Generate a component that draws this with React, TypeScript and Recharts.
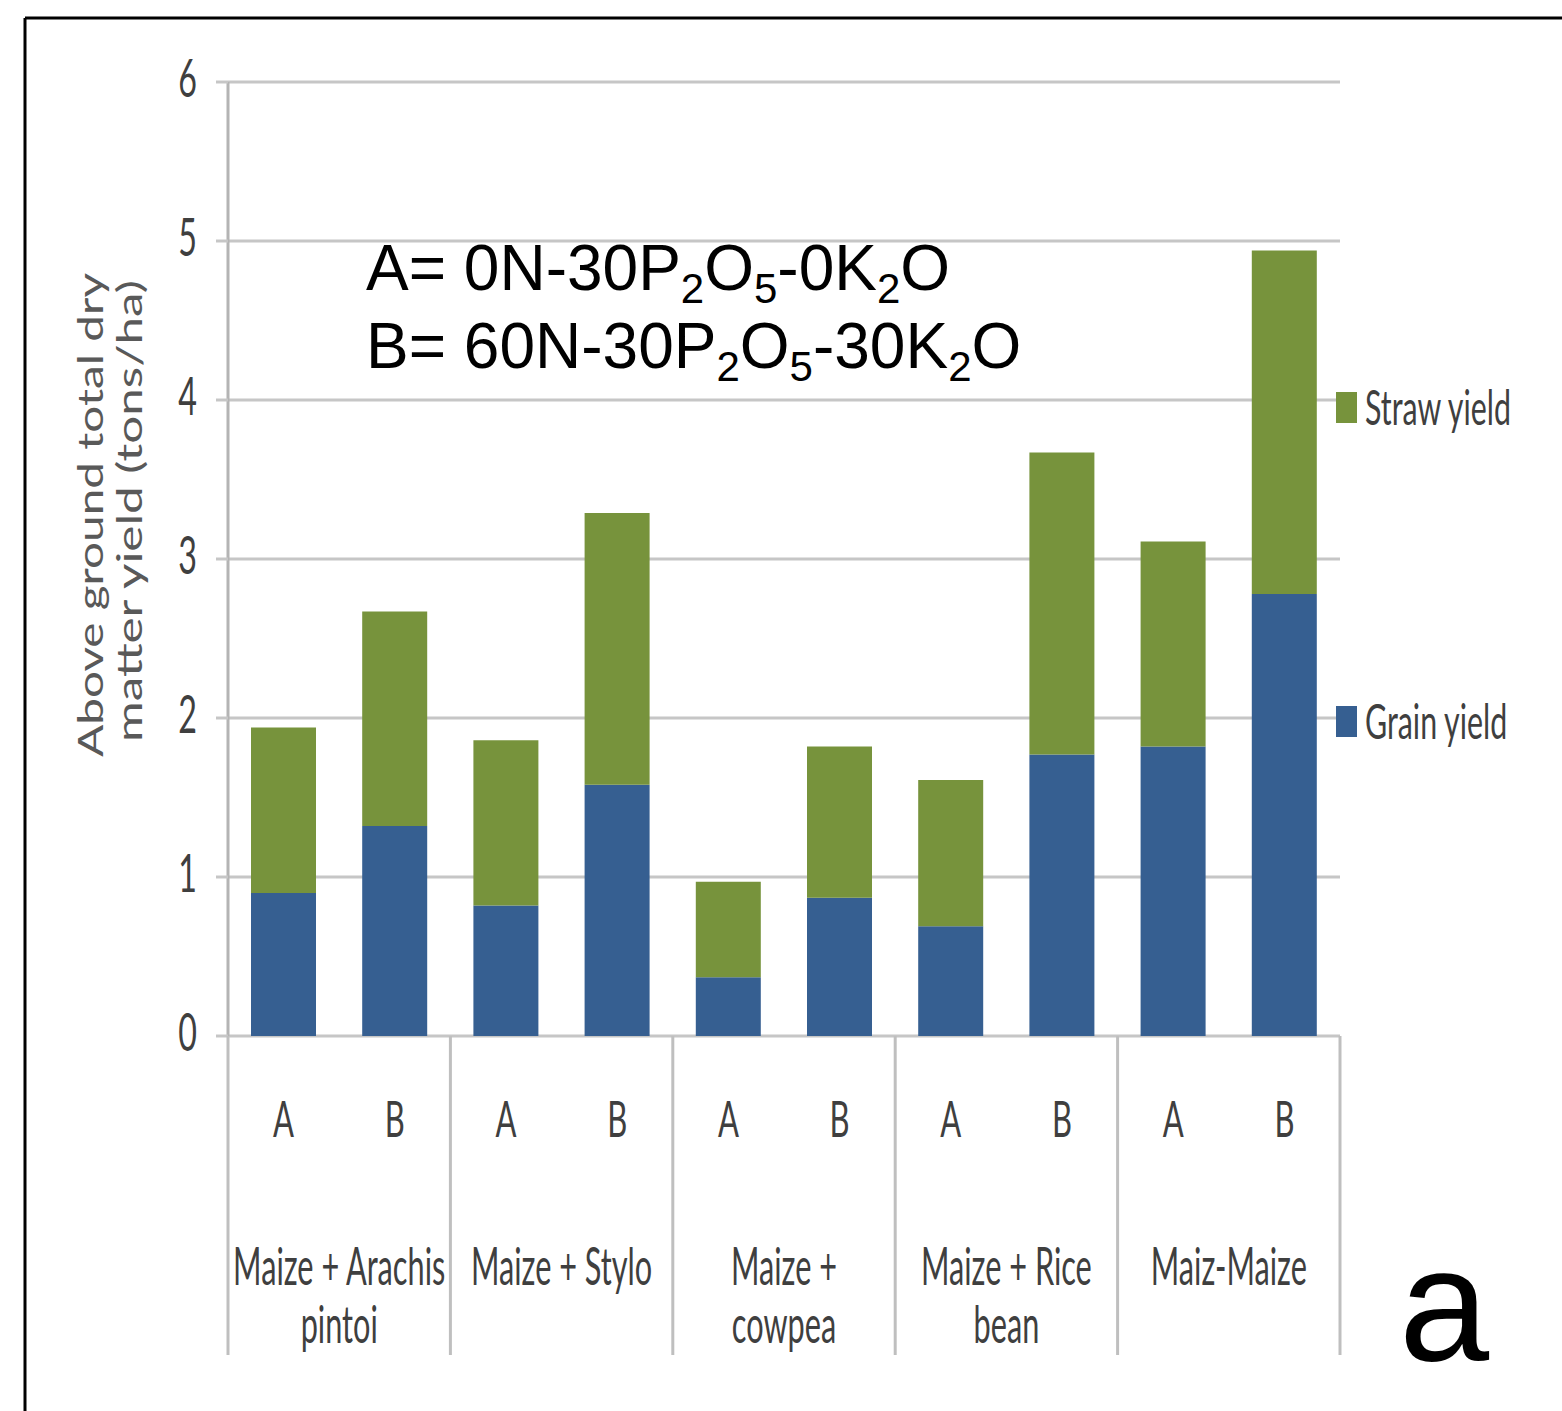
import React from "react";
import { BarChart, Bar, XAxis, YAxis, CartesianGrid, Legend } from "recharts";

// treatments (A / B) per cropping system
const treatments = ["A", "B", "A", "B", "A", "B", "A", "B", "A", "B"];
const systemLabels = [
  ["Maize + Arachis", "pintoi"],
  ["Maize + Stylo"],
  ["Maize +", "cowpea"],
  ["Maize + Rice", "bean"],
  ["Maiz-Maize"],
];
const grainYield = [0.9, 1.32, 0.82, 1.58, 0.37, 0.87, 0.69, 1.77, 1.82, 2.78];
const strawYield = [1.04, 1.35, 1.04, 1.71, 0.6, 0.95, 0.92, 1.9, 1.29, 2.16];
const yTicks = [0, 1, 2, 3, 4, 5, 6];

const data = treatments.map((t, i) => ({
  id: `${t}-${i}`,
  treatment: t,
  grain: grainYield[i],
  straw: strawYield[i],
}));

const W = 1562;
const H = 1411;
const PLOT_LEFT = 228;
const PLOT_RIGHT = 1340;
const PLOT_TOP = 82;
const PLOT_BOTTOM = 1036;
const SLOT = (PLOT_RIGHT - PLOT_LEFT) / treatments.length;

const GREEN = "#77933c";
const BLUE = "#365f91";
const GRID = "#c6c6c6";
const TEXT = "#3f3f3f";
const NARROW = "Lato, 'Open Sans', sans-serif";

const CondText = ({ x, y, size, anchor = "middle", fill = TEXT, sx = 0.62, children }: any) => (
  <text
    transform={`translate(${x},${y}) scale(${sx},1)`}
    textAnchor={anchor}
    fontFamily={NARROW}
    fontSize={size}
    fill={fill}
  >
    {children}
  </text>
);

const YTick = (props: any) => {
  const { y, payload } = props;
  return (
    <CondText x={197} y={y + 15} size={52} anchor="end">
      {payload.value}
    </CondText>
  );
};

const CategoryTick = (props: any) => {
  const { x, index } = props;
  const g = Math.floor(index / 2);
  return (
    <g>
      <CondText x={x} y={1137} size={50}>
        {treatments[index]}
      </CondText>
      {index % 2 === 0 && (
        <g>
          <line x1={x - SLOT / 2} x2={x - SLOT / 2} y1={PLOT_BOTTOM} y2={1355} stroke="#bfbfbf" strokeWidth={3} />
          {systemLabels[g].map((line, k) => (
            <CondText key={k} x={x + SLOT / 2} y={1285 + k * 58} size={52} sx={0.59}>
              {line}
            </CondText>
          ))}
        </g>
      )}
      {index === treatments.length - 1 && (
        <line x1={x + SLOT / 2} x2={x + SLOT / 2} y1={PLOT_BOTTOM} y2={1355} stroke="#bfbfbf" strokeWidth={3} />
      )}
    </g>
  );
};

const YLabel = () => (
  <g fill="#595959" fontFamily={NARROW} fontSize={34}>
    <text transform="translate(103,515) rotate(-90)" textAnchor="middle" textLength={484} lengthAdjust="spacingAndGlyphs">
      Above ground total dry
    </text>
    <text transform="translate(142,511) rotate(-90)" textAnchor="middle" textLength={462} lengthAdjust="spacingAndGlyphs">
      matter yield (tons/ha)
    </text>
  </g>
);

const legendItems = [
  { label: "Straw yield", color: GREEN, y: 408 },
  { label: "Grain yield", color: BLUE, y: 722 },
];

const renderLegend = () => (
  <svg width={W} height={H} style={{ position: "absolute", left: 0, top: 0 }}>
    {legendItems.map((it) => (
      <g key={it.label}>
        <rect x={1336} y={it.y - 16} width={21} height={31} fill={it.color} />
        <CondText x={1365} y={it.y + 17} size={49} anchor="start">
          {it.label}
        </CondText>
      </g>
    ))}
  </svg>
);

// formula split into [normal, subscript] pairs
const formulaA = [["A= 0N-30P", "2"], ["O", "5"], ["-0K", "2"], ["O", ""]];
const formulaB = [["B= 60N-30P", "2"], ["O", "5"], ["-30K", "2"], ["O", ""]];

const Formula = ({ x, y, parts }: any) => (
  <text x={x} y={y}>
    {parts.map(([main, sub]: string[], i: number) => (
      <React.Fragment key={i}>
        <tspan dy={i === 0 ? 0 : -13}>{main}</tspan>
        {sub && (
          <tspan dy={13} fontSize={42}>
            {sub}
          </tspan>
        )}
      </React.Fragment>
    ))}
  </text>
);

export default function App() {
  return (
    <div style={{ position: "absolute", left: 0, top: 0, width: W, height: H, background: "#fff" }}>
      <BarChart
        width={W}
        height={H}
        data={data}
        margin={{ top: PLOT_TOP, right: W - PLOT_RIGHT, bottom: 0, left: 0 }}
      >
        <CartesianGrid vertical={false} stroke={GRID} strokeWidth={3} />
        <XAxis
          dataKey="id"
          height={H - PLOT_BOTTOM}
          axisLine={false}
          tickLine={false}
          interval={0}
          tick={(p: any) => <CategoryTick {...p} />}
        />
        <YAxis
          width={PLOT_LEFT}
          domain={[0, 6]}
          ticks={yTicks}
          interval={0}
          tickSize={12}
          tickLine={{ stroke: GRID, strokeWidth: 3 }}
          axisLine={{ stroke: "#b4b4b4", strokeWidth: 3 }}
          tick={(p: any) => <YTick {...p} />}
          label={<YLabel />}
        />
        <Legend
          layout="vertical"
          align="center"
          verticalAlign="middle"
          content={renderLegend}
          wrapperStyle={{ left: 0, top: 0, width: W, height: H, pointerEvents: "none" }}
        />
        <Bar dataKey="grain" name="Grain yield" stackId="y" fill={BLUE} barSize={65} isAnimationActive={false} />
        <Bar dataKey="straw" name="Straw yield" stackId="y" fill={GREEN} barSize={65} isAnimationActive={false} />
      </BarChart>
      <svg width={W} height={H} style={{ position: "absolute", left: 0, top: 0, pointerEvents: "none" }}>
        <line x1={25} y1={18} x2={W} y2={18} stroke="#000" strokeWidth={3} />
        <line x1={25} y1={18} x2={25} y2={H} stroke="#000" strokeWidth={3} />
        <g fontFamily="'Liberation Sans', Arial, sans-serif" fontSize={64} fill="#000">
          <Formula x={366} y={290} parts={formulaA} />
          <Formula x={366} y={368} parts={formulaB} />
        </g>
        <text x={1399} y={1360} fontFamily="'Liberation Sans', Arial, sans-serif" fontSize={162} fill="#000">
          a
        </text>
      </svg>
    </div>
  );
}
